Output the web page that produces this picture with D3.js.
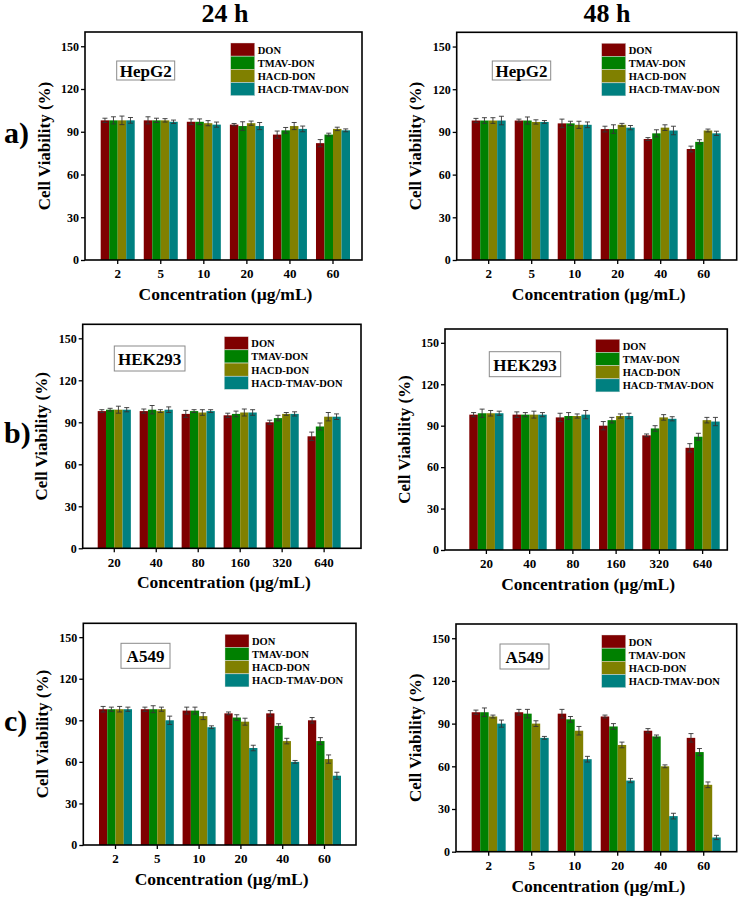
<!DOCTYPE html>
<html>
<head>
<meta charset="utf-8">
<script src="https://cdn.jsdelivr.net/npm/d3@7/dist/d3.min.js"></script>
<style>
  html, body { margin: 0; padding: 0; background: #fff; }
  svg { display: block; }
</style>
</head>
<body>
<svg id="chart" width="751" height="900"></svg>
<script>
// ---------------- DATA ----------------
const concA = ["2", "5", "10", "20", "40", "60"];
const concB = ["20", "40", "80", "160", "320", "640"];
const seriesNames = ["DON", "TMAV-DON", "HACD-DON", "HACD-TMAV-DON"];
const seriesColors = ["#7f0000", "#008000", "#808000", "#008080"];
const yTickValues = [0, 30, 60, 90, 120, 150];
const timeTitles = ["24 h", "48 h"];
const rowLetters = ["a)", "b)", "c)"];
const cellLines = ["HepG2", "HEK293", "A549"];

// values: one row per series (DON, TMAV-DON, HACD-DON, HACD-TMAV-DON)
const hepg2_24h = [[98, 98, 97, 95, 88, 82], [98, 98, 97, 94, 91, 88], [98, 98, 96, 96, 94, 92], [98, 97, 95, 94, 92, 91]];
const hepg2_24h_err = [[1.5, 2.5, 2, 0.8, 2.5, 2.5], [2.5, 1.5, 2, 3, 2, 1], [3, 1.2, 1.8, 1.5, 2.5, 1.2], [2, 1.2, 1.8, 2.5, 2, 1]];
const hepg2_48h = [[98, 98, 96, 92, 85, 78], [98, 98, 96, 92, 89, 83], [98, 97, 95, 95, 93, 91], [98, 97, 95, 93, 91, 89]];
const hepg2_48h_err = [[1.5, 1, 3, 2, 1, 2], [2, 2.5, 1.5, 3, 2.5, 1.5], [2, 1.5, 2.5, 1, 2, 1], [3, 1, 2, 1.5, 3, 1.5]];
const hek293_24h = [[98, 98, 96, 95, 90, 80], [99, 99, 98, 96, 93, 87], [99, 98, 97, 97, 96, 94], [99, 99, 98, 97, 96, 94]];
const hek293_24h_err = [[1, 1.5, 2.5, 1.5, 1.5, 3], [1, 3, 1, 2, 2, 2.5], [2.5, 1, 2, 2.5, 1, 3], [1.5, 2, 1, 2, 1.5, 2]];
const hek293_48h = [[98, 98, 96, 90, 83, 74], [99, 98, 97, 94, 88, 82], [99, 98, 97, 97, 96, 94], [99, 98, 98, 97, 95, 93]];
const hek293_48h_err = [[1.5, 2, 3, 3, 1, 3], [3, 1.5, 2.5, 2, 2, 2.5], [2, 2.5, 1.5, 1.5, 2, 2], [1.5, 1.5, 3, 2, 1.5, 3]];
const a549_24h = [[98, 98, 97, 95, 95, 90], [98, 98, 97, 92, 86, 75], [98, 98, 93, 89, 75, 62], [98, 90, 85, 70, 60, 50]];
const a549_24h_err = [[2, 1.5, 2.5, 1, 2, 2], [1.5, 2.5, 2.5, 2, 1.5, 2.5], [2, 1.5, 2.5, 2.5, 2, 3], [1.5, 3, 1, 2, 1, 2.5]];
const a549_48h = [[98, 98, 97, 95, 85, 80], [98, 97, 93, 88, 81, 70], [95, 90, 85, 75, 60, 47], [90, 80, 65, 50, 25, 10]];
const a549_48h_err = [[1.5, 2, 3, 1, 1.5, 3], [3, 3, 2, 2, 1, 2.5], [1, 2, 3, 2, 1, 2], [2.5, 1, 2, 1.5, 2, 1.5]];

const FONT = "'Times New Roman', Tinos, 'Liberation Serif', serif";

// ---------------- LAYOUT ----------------
const panels = [
  { vals: hepg2_24h, errs: hepg2_24h_err, cats: concA, cell: 0, frame: [85, 32, 362, 260], groups: [100.7, 350], legend: [145.7, 11], box: [31.7, 29, 58, 19] },
  { vals: hepg2_48h, errs: hepg2_48h_err, cats: concA, cell: 0, frame: [456.7, 32.3, 736.7, 260], groups: [471.7, 720.7], legend: [145, 11], box: [35.6, 28.7, 58.4, 19] },
  { vals: hek293_24h, errs: hek293_24h_err, cats: concB, cell: 1, frame: [82.7, 324.3, 361, 548.3], groups: [97.7, 340.7], legend: [141.6, 12.4], box: [31.6, 21.7, 70.7, 25] },
  { vals: hek293_48h, errs: hek293_48h_err, cats: concB, cell: 1, frame: [445, 329, 727.3, 550], groups: [469.3, 719.7], legend: [150.7, 10.3], box: [44.3, 22.7, 71.4, 25] },
  { vals: a549_24h, errs: a549_24h_err, cats: concA, cell: 2, frame: [83.3, 623.3, 356, 845], groups: [99, 341], legend: [141.7, 11], box: [37.7, 20, 49, 25] },
  { vals: a549_48h, errs: a549_48h_err, cats: concA, cell: 2, frame: [456, 624, 736.7, 851.7], groups: [471.7, 720.7], legend: [145.7, 11], box: [44, 20, 49, 25] }
];

const svg = d3.select("#chart");

function txt(sel) {
  return sel.style("font-family", FONT).style("font-weight", "bold").attr("fill", "#000");
}

// column titles
txt(svg.append("text")).attr("x", 225).attr("y", 22).attr("text-anchor", "middle")
  .style("font-size", "26px").text(timeTitles[0]);
txt(svg.append("text")).attr("x", 607).attr("y", 22).attr("text-anchor", "middle")
  .style("font-size", "26px").text(timeTitles[1]);

// row letters
[143, 443, 731].forEach((y, i) => {
  txt(svg.append("text")).attr("x", 4).attr("y", y)
    .style("font-size", "30px").text(rowLetters[i]);
});

panels.forEach(p => {
  const [L, T, R, B] = p.frame;
  const g = svg.append("g");

  const y = d3.scaleLinear().domain([0, 160]).range([B, T]);
  const x0 = d3.scaleBand().domain(p.cats).range(p.groups).paddingInner(0.21).paddingOuter(0);
  const x1 = d3.scaleBand().domain(d3.range(seriesNames.length)).range([0, x0.bandwidth()]).padding(0);

  // bars
  p.cats.forEach((c, ci) => {
    seriesNames.forEach((s, si) => {
      const v = p.vals[si][ci];
      const e = p.errs[si][ci];
      const bx = x0(c) + x1(si);
      const bw = x1.bandwidth();
      g.append("rect")
        .attr("x", bx).attr("y", y(v))
        .attr("width", bw).attr("height", y(0) - y(v))
        .attr("fill", seriesColors[si]);
      const cx = bx + bw / 2;
      const eg = g.append("g").attr("stroke", "#333").attr("stroke-width", 0.9);
      eg.append("line").attr("x1", cx).attr("x2", cx).attr("y1", y(v + e)).attr("y2", y(v - e));
      eg.append("line").attr("x1", cx - 2.5).attr("x2", cx + 2.5).attr("y1", y(v + e)).attr("y2", y(v + e));
      eg.append("line").attr("x1", cx - 2.5).attr("x2", cx + 2.5).attr("y1", y(v - e)).attr("y2", y(v - e));
    });
  });

  // y axis
  const yAxis = g.append("g").attr("transform", `translate(${L},0)`)
    .call(d3.axisLeft(y).tickValues(yTickValues).tickSize(4).tickPadding(2));
  yAxis.select(".domain").remove();
  yAxis.selectAll(".tick line").attr("stroke", "#000").attr("stroke-width", 1.3);
  txt(yAxis.selectAll(".tick text")).style("font-size", "12px");

  // x axis
  const xAxis = g.append("g").attr("transform", `translate(0,${B})`)
    .call(d3.axisBottom(x0).tickSize(4).tickPadding(5));
  xAxis.select(".domain").remove();
  xAxis.selectAll(".tick line").attr("stroke", "#000").attr("stroke-width", 1.3);
  txt(xAxis.selectAll(".tick text")).style("font-size", "13px");

  // frame
  g.append("rect").attr("x", L).attr("y", T).attr("width", R - L).attr("height", B - T)
    .attr("fill", "none").attr("stroke", "#000").attr("stroke-width", 1.6);

  // axis titles
  txt(g.append("text"))
    .attr("transform", `translate(${L - 41},${(T + B) / 2}) rotate(-90)`)
    .attr("text-anchor", "middle").attr("dominant-baseline", "central")
    .style("font-size", "17px").text("Cell Viability (%)");
  txt(g.append("text"))
    .attr("x", (L + R) / 2 + 2).attr("y", B + 40)
    .attr("text-anchor", "middle")
    .style("font-size", "17.5px").text("Concentration (\u00b5g/mL)");

  // cell line label box
  const [bxo, byo, bw, bh] = p.box;
  g.append("rect").attr("x", L + bxo).attr("y", T + byo).attr("width", bw).attr("height", bh)
    .attr("fill", "#fff").attr("stroke", "#8a8a8a").attr("stroke-width", 1);
  txt(g.append("text")).attr("x", L + bxo + bw / 2).attr("y", T + byo + bh / 2 + 1)
    .attr("text-anchor", "middle").attr("dominant-baseline", "central")
    .style("font-size", "17px").text(cellLines[p.cell]);

  // legend
  const lx = L + p.legend[0], ly = T + p.legend[1];
  seriesNames.forEach((s, si) => {
    g.append("rect").attr("x", lx).attr("y", ly + si * 13.2).attr("width", 24).attr("height", 13)
      .attr("fill", seriesColors[si]).attr("stroke", "#ddd").attr("stroke-width", 0.4);
    txt(g.append("text")).attr("x", lx + 27).attr("y", ly + si * 13.2 + 7)
      .attr("dominant-baseline", "central")
      .style("font-size", "10.5px").text(s);
  });
});
</script>
</body>
</html>
